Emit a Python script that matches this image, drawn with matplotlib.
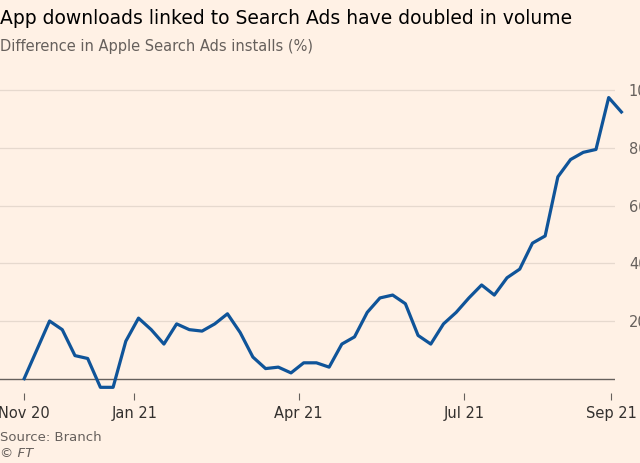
import matplotlib
matplotlib.use("Agg")
import matplotlib.pyplot as plt

# weekly values, first point is start of Nov 2020
installs = [0, 10, 20, 17, 8, 7, -3, -3, 13, 21, 17, 12, 19, 17, 16.5, 19,
            22.5, 16, 7.5, 3.5, 4, 2, 5.5, 5.5, 4, 12, 14.5, 23, 28, 29, 26, 15,
            12, 19, 23, 28, 32.5, 29, 35, 38, 47, 49.5, 70, 76, 78.5, 79.5, 97.5, 92.5]
tick_pos = [0, 8.67, 21.6, 34.6, 46.2]
tick_labels = ["Nov 20", "Jan 21", "Apr 21", "Jul 21", "Sep 21"]
y_ticks = [20, 40, 60, 80, 100]

bg = "#FFF1E5"
fig = plt.figure(figsize=(6.4, 4.63), dpi=100, facecolor=bg)
ax = fig.add_axes([0.0, 0.151, 0.961, 0.685], facecolor=bg)

ax.plot(range(len(installs)), installs, color="#0F5499", lw=2.3, zorder=3, clip_on=False)
ax.set_xlim(-1.9, 46.5)
ax.set_ylim(-5, 105)

for y in y_ticks:
    ax.axhline(y, color="#E6D9CE", lw=0.9, zorder=1)
ax.axhline(0, color="#66605C", lw=1, zorder=2)

for s in ax.spines.values():
    s.set_visible(False)
ax.set_yticks(y_ticks)
ax.set_yticklabels([str(v) for v in y_ticks])
ax.yaxis.tick_right()
ax.tick_params(axis="y", length=0, pad=10, labelsize=10.5, labelcolor="#66605C")
ax.set_xticks(tick_pos)
ax.set_xticklabels(tick_labels)
ax.tick_params(axis="x", length=5, color="#66605C", labelsize=10.5, labelcolor="#33302E", pad=4)

fig.text(0.0, 0.96, "App downloads linked to Search Ads have doubled in volume",
         fontsize=13.5, color="#000000", va="center")
fig.text(0.0, 0.9, "Difference in Apple Search Ads installs (%)",
         fontsize=10.5, color="#66605C", va="center")
fig.text(0.0, 0.056, "Source: Branch", fontsize=9.5, color="#66605C", va="center")
fig.text(0.0, 0.02, "© FT", fontsize=9.5, color="#66605C", va="center", style="italic")

fig.savefig("out.png", dpi=100, facecolor=bg)
